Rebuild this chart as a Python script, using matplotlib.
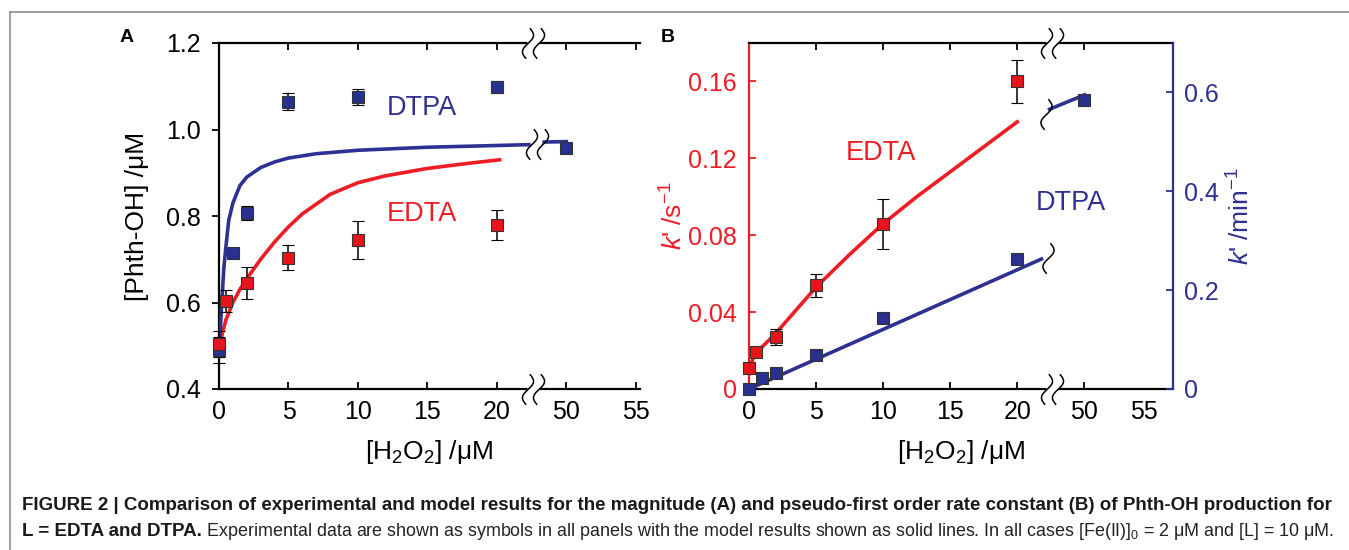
import numpy as np
import matplotlib
matplotlib.use("Agg")
import matplotlib.pyplot as plt
from matplotlib.path import Path

plt.rcParams["font.family"] = ["Liberation Sans", "DejaVu Sans"]
plt.rcParams["mathtext.fontset"] = "custom"
plt.rcParams["mathtext.rm"] = "Liberation Sans"
plt.rcParams["mathtext.it"] = "Liberation Sans:italic"
plt.rcParams["mathtext.bf"] = "Liberation Sans:bold"

RED = "#ee1c24"
BLUE = "#2e3192"
RED_FILL = "#e8141c"
BLUE_FILL = "#283090"

# ---------- panel A data ----------
a_x_edta = [0, 0.5, 2, 5, 10, 20]
a_y_edta = [0.505, 0.603, 0.645, 0.703, 0.744, 0.779]
a_e_edta = [0.030, 0.025, 0.037, 0.029, 0.044, 0.035]

a_x_dtpa = [0, 1, 2, 5, 10, 20, 50]
a_y_dtpa = [0.490, 0.714, 0.807, 1.064, 1.075, 1.098, 0.957]
a_e_dtpa = [0.030, 0.0, 0.016, 0.020, 0.018, 0.013, 0.0]

# model curves
a_mx_edta = [0, 0.25, 0.5, 1, 1.5, 2, 3, 4, 5, 6, 8, 10, 12, 15, 18, 20.2]
a_my_edta = [0.49, 0.53, 0.56, 0.60, 0.63, 0.655, 0.70, 0.74, 0.775, 0.805, 0.85, 0.877, 0.893, 0.91, 0.922, 0.93]
a_mx_dtpa = [0, 0.1, 0.2, 0.35, 0.5, 0.7, 1, 1.5, 2, 3, 4, 5, 7, 10, 15, 20, 22.3]
a_my_dtpa = [0.49, 0.54, 0.60, 0.68, 0.73, 0.79, 0.83, 0.87, 0.89, 0.912, 0.925, 0.934, 0.944, 0.952, 0.959, 0.963, 0.965]
a_mx_dtpa_hi = [48.4, 50]
a_my_dtpa_hi = [0.971, 0.972]

# ---------- panel B data ----------
b_x_edta = [0, 0.5, 2, 5, 10, 20]
b_y_edta = [0.011, 0.019, 0.027, 0.054, 0.086, 0.160]
b_e_edta = [0.002, 0.002, 0.004, 0.006, 0.013, 0.011]

b_x_dtpa = [0, 1, 2, 5, 10, 20, 50]
b_y_dtpa = [0.0, 0.022, 0.032, 0.069, 0.144, 0.263, 0.585]

b_mx_edta = [0, 0.2, 0.5, 1, 2, 3, 5, 7.5, 10, 12.5, 15, 17.5, 20]
b_my_edta = [0.008, 0.014, 0.019, 0.022, 0.029, 0.037, 0.053, 0.070, 0.086, 0.100, 0.113, 0.126, 0.139]
b_mx_dtpa = [0, 21.8]
b_my_dtpa = [0.0, 0.263]
b_mx_dtpa_hi = [47.4, 50]
b_my_dtpa_hi = [0.566, 0.595]

x_ticks = [0, 5, 10, 15, 20, 50, 55]
x_break = 22.6


def pos(x):
    # broken x axis: 0-20 linear, then 50 -> 25
    x = np.asarray(x, dtype=float)
    return np.where(x > 30, x - 25, x)


def s_path(n=2):
    t = np.linspace(-1, 1, 40)
    verts, codes = [], []
    offs = [0.0] if n == 1 else [-0.36, 0.36]
    for o in offs:
        xs = o - 0.3 * np.sin(np.pi * t) - 0.12 * t
        ys = -t
        pts = list(zip(xs, ys))
        verts += pts
        codes += [Path.MOVETO] + [Path.LINETO] * (len(pts) - 1)
    return Path(verts, codes)


SS = s_path(2)
S1 = s_path(1)


def break_mark(ax, xp, yv, marker, gap=True, ms=22, trans=None):
    kw = dict(clip_on=False, linestyle="none")
    if trans is not None:
        kw["transform"] = trans
    if gap:
        ax.plot([xp], [yv], marker="s", ms=8, mfc="white", mec="none", zorder=5, **kw)
    ax.plot([xp], [yv], marker=marker, ms=ms, mfc="none", mec="black", mew=1.1, zorder=6, **kw)


def style_axis(ax, xmax, last_pos):
    for sp in ["bottom", "top"]:
        ax.spines[sp].set_linewidth(1.6)
    ax.set_xlim(0, xmax)
    ticks = list(pos(x_ticks[:-1])) + [last_pos]
    ax.set_xticks(ticks)
    ax.set_xticklabels([str(v) for v in x_ticks])
    ax.tick_params(axis="x", direction="in", length=5, width=1.3, top=True, labelsize=18, pad=8)
    trans = ax.get_xaxis_transform()
    break_mark(ax, x_break, 0, SS, trans=trans)
    break_mark(ax, x_break, 1, SS, trans=trans)


def draw_points(ax, x, y, err, fill):
    ax.errorbar(pos(x), y, yerr=err, fmt="s", ms=9, mfc=fill, mec="#333333", mew=0.8,
                ecolor="black", elinewidth=1.1, capsize=4, capthick=1.1, zorder=4, clip_on=False)


fig = plt.figure(figsize=(13.49, 5.5), dpi=100)

# ---------- panel A ----------
axA = fig.add_axes([219 / 1349, 1 - 389 / 550, (640 - 219) / 1349, (389 - 43) / 550])
axA.plot(pos(a_mx_edta), a_my_edta, color=RED, lw=2.6, zorder=3)
axA.plot(pos(a_mx_dtpa), a_my_dtpa, color=BLUE, lw=2.6, zorder=3)
axA.plot(pos(a_mx_dtpa_hi), a_my_dtpa_hi, color=BLUE, lw=2.6, zorder=3)
break_mark(axA, 22.9, 0.967, SS, gap=False)
draw_points(axA, a_x_dtpa, a_y_dtpa, a_e_dtpa, BLUE_FILL)
draw_points(axA, a_x_edta, a_y_edta, a_e_edta, RED_FILL)
axA.set_ylim(0.4, 1.2)
axA.set_yticks([0.4, 0.6, 0.8, 1.0, 1.2])
axA.set_yticklabels(["0.4", "0.6", "0.8", "1.0", "1.2"])
axA.spines["right"].set_visible(False)
axA.spines["left"].set_linewidth(1.6)
axA.tick_params(axis="y", direction="out", length=5, width=1.3, labelsize=18, pad=8)
style_axis(axA, 30.3, 30)
axA.set_ylabel("[Phth-OH] /μM", fontsize=19, labelpad=12)
axA.set_xlabel("[H$_2$O$_2$] /μM", fontsize=19, labelpad=10)
axA.text(14.6, 1.05, "DTPA", color=BLUE, fontsize=19.5, ha="center", va="center")
axA.text(14.6, 0.805, "EDTA", color=RED, fontsize=19.5, ha="center", va="center")
fig.text(127 / 1349, 1 - 37 / 550, "A", fontsize=14, fontweight="bold", ha="center", va="center")

# ---------- panel B ----------
axB = fig.add_axes([749 / 1349, 1 - 389 / 550, (1173 - 749) / 1349, (389 - 43) / 550])
axB2 = axB.twinx()
axB.plot(pos(b_mx_edta), b_my_edta, color=RED, lw=2.6, zorder=3)
draw_points(axB, b_x_edta, b_y_edta, b_e_edta, RED_FILL)
axB.set_ylim(0, 0.18)
axB.set_yticks([0, 0.04, 0.08, 0.12, 0.16])
axB.set_yticklabels(["0", "0.04", "0.08", "0.12", "0.16"])
axB.spines["left"].set_color(RED)
axB.spines["left"].set_linewidth(1.6)
axB.spines["right"].set_visible(False)
axB.tick_params(axis="y", direction="in", length=5, width=1.3, colors=RED, labelsize=18, pad=9)
style_axis(axB, 31.6, 29.4)
last = axB.xaxis.get_major_ticks()[-1]
last.tick1line.set_visible(False)
last.tick2line.set_visible(False)
axB.set_ylabel("$k$' /s$^{-1}$", fontsize=19, color=RED, labelpad=0)
axB.set_xlabel("[H$_2$O$_2$] /μM", fontsize=19, labelpad=10)
axB.text(9.8, 0.123, "EDTA", color=RED, fontsize=19.5, ha="center", va="center")
axB.text(24.0, 0.097, "DTPA", color=BLUE, fontsize=19.5, ha="center", va="center")

axB2.plot(pos(b_mx_dtpa), b_my_dtpa, color=BLUE, lw=2.6, zorder=3)
axB2.plot(pos(b_mx_dtpa_hi), b_my_dtpa_hi, color=BLUE, lw=2.6, zorder=3)
break_mark(axB2, 22.3, 0.265, S1, gap=False, ms=22)
break_mark(axB2, 22.1, 0.556, S1, gap=False, ms=22)
axB2.errorbar(pos(b_x_dtpa), b_y_dtpa, fmt="s", ms=9, mfc=BLUE_FILL, mec="#333333", mew=0.8,
              zorder=4, clip_on=False)
axB2.set_ylim(0, 0.70)
axB2.set_yticks([0, 0.2, 0.4, 0.6])
axB2.set_yticklabels(["0", "0.2", "0.4", "0.6"])
for sp in ["left", "top", "bottom"]:
    axB2.spines[sp].set_visible(False)
axB2.spines["right"].set_color(BLUE)
axB2.spines["right"].set_linewidth(1.6)
axB2.tick_params(axis="y", direction="in", length=5, width=1.3, colors=BLUE, labelsize=18, pad=8)
axB2.set_ylabel("$k$' /min$^{-1}$", fontsize=19, color=BLUE, labelpad=6)
fig.text(668 / 1349, 1 - 37 / 550, "B", fontsize=14, fontweight="bold", ha="center", va="center")

# ---------- frame and caption ----------
fig.add_artist(plt.Line2D([10 / 1349, 1], [1 - 12 / 550, 1 - 12 / 550], color="#8c8c8c", lw=1.2))
fig.add_artist(plt.Line2D([10 / 1349, 10 / 1349], [0, 1 - 12 / 550], color="#8c8c8c", lw=1.2))

cap1 = ("FIGURE 2 | Comparison of experimental and model results for the magnitude (A) and "
        "pseudo-first order rate constant (B) of Phth-OH production for")
cap2a = "L = EDTA and DTPA."
cap2b = (" Experimental data are shown as symbols in all panels with the model results shown as "
         "solid lines. In all cases [Fe(II)]$_0$ = 2 μM and [L] = 10 μM.")
t1 = fig.text(22 / 1349, 1 - 505 / 550, cap1, fontsize=13.5, fontweight="bold",
              ha="left", va="center", color="#1a1a1a")
t2 = fig.text(22 / 1349, 1 - 532 / 550, cap2a, fontsize=13.5, fontweight="bold",
              ha="left", va="center", color="#1a1a1a")
r = fig.canvas.get_renderer()
bb = t2.get_window_extent(renderer=r)
fig.text(bb.x1 / fig.bbox.width, 1 - 532 / 550, cap2b, fontsize=12.9,
         ha="left", va="center", color="#222222")

fig.savefig("out.png", dpi=100)
